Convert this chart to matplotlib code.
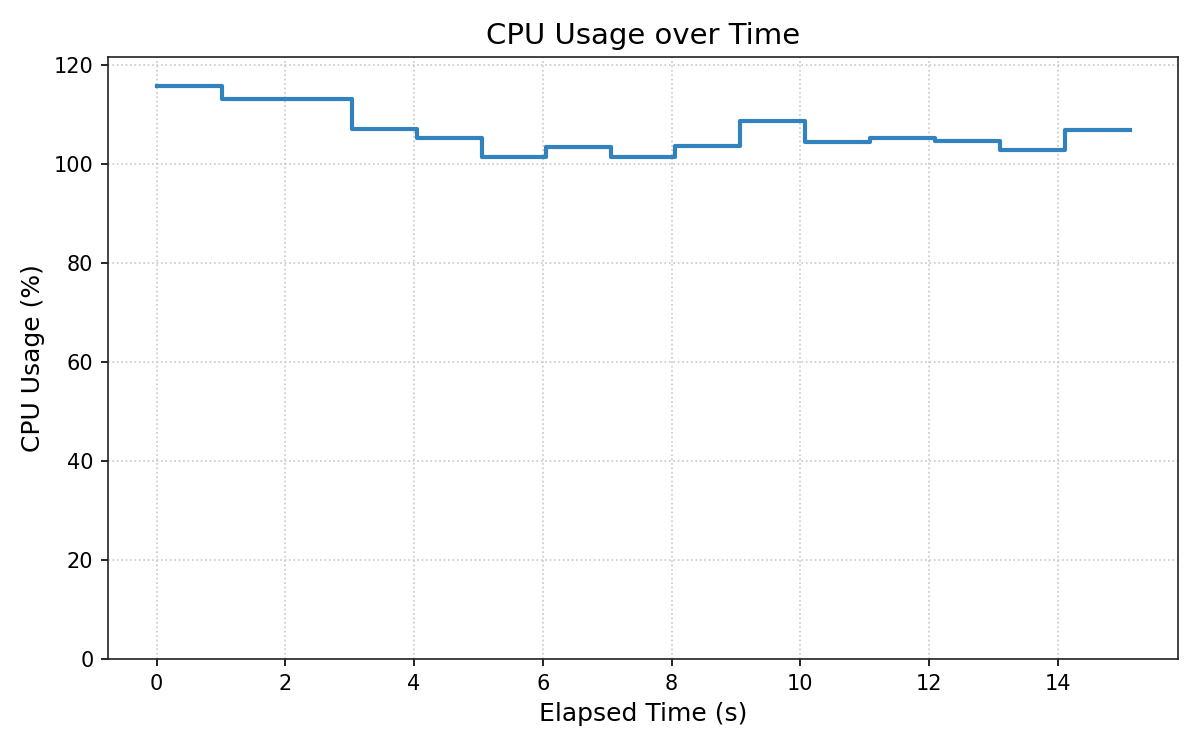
import matplotlib
matplotlib.use("Agg")
import matplotlib.pyplot as plt

# elapsed seconds and sampled cpu percent
elapsed = [0, 1.01, 2.02, 3.03, 4.04, 5.05, 6.05, 7.06, 8.06, 9.07,
           10.08, 11.09, 12.10, 13.10, 14.11, 15.12]
cpu = [115.8, 113.1, 113.1, 107.1, 105.3, 101.4, 103.4, 101.4, 103.6, 108.7,
       104.4, 105.3, 104.7, 102.8, 106.9, 106.9]

fig, ax = plt.subplots(figsize=(8, 5), dpi=150)
ax.step(elapsed, cpu, where="post", color="#3182bd", linewidth=2.0)

ax.set_ylim(0, 121.6)
ax.set_xticks(range(0, 15, 2))
ax.set_title("CPU Usage over Time", fontsize=14)
ax.set_xlabel("Elapsed Time (s)", fontsize=12)
ax.set_ylabel("CPU Usage (%)", fontsize=12)
ax.grid(True, linestyle=":", color="#c8c8c8", linewidth=0.8)
for s in ax.spines.values():
    s.set_color("#222222")

fig.subplots_adjust(left=0.09, right=0.982, top=0.924, bottom=0.121)
fig.savefig("out.png")
